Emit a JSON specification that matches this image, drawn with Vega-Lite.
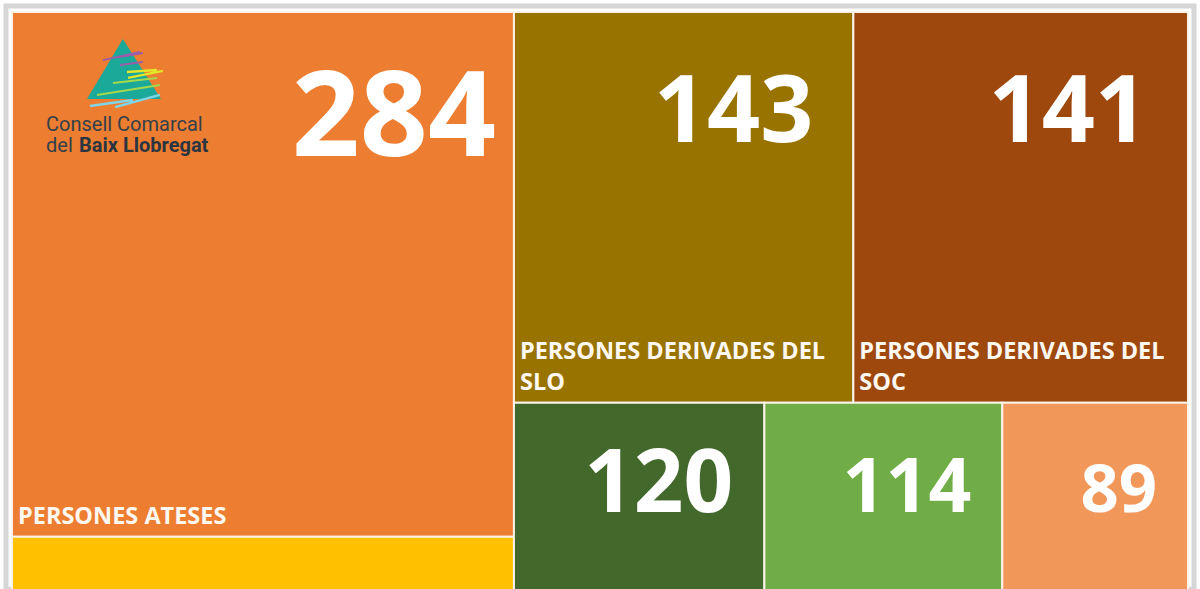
{
  "$schema": "https://vega.github.io/schema/vega-lite/v6.json",
  "width": 1200,
  "height": 589,
  "autosize": {"type": "fit", "contains": "padding"},
  "padding": {"left": 6, "top": 6, "right": 6, "bottom": 0},
  "background": "white",
  "config": {"view": {"stroke": "#d6d6d6", "strokeWidth": 5}, "font": "Open Sans"},
  "data": {
    "values": [
      {"label": "PERSONES ATESES", "value": 284, "block": "A"},
      {"label": null, "value": 168, "block": "A"},
      {"label": "PERSONES DERIVADES DEL\nSLO", "value": 143, "block": "B"},
      {"label": "PERSONES DERIVADES DEL\nSOC", "value": 141, "block": "B"},
      {"label": null, "value": 120, "block": "C"},
      {"label": null, "value": 114, "block": "C"},
      {"label": null, "value": 89, "block": "C"}
    ]
  },
  "transform": [
    {"joinaggregate": [{"op": "sum", "field": "value", "as": "T"}]},
    {"calculate": "datum.block === 'A' ? datum.value : 0", "as": "aVal"},
    {"calculate": "datum.block === 'B' ? datum.value : 0", "as": "bVal"},
    {"joinaggregate": [{"op": "sum", "field": "aVal", "as": "SA"}, {"op": "sum", "field": "bVal", "as": "SB"}]},
    {"joinaggregate": [{"op": "sum", "field": "value", "as": "S"}], "groupby": ["block"]},
    {"window": [{"op": "sum", "field": "value", "as": "cum"}], "groupby": ["block"], "sort": [{"field": "value", "order": "descending"}], "frame": [null, 0]},
    {"calculate": "datum.SA / datum.T", "as": "wA"},
    {"calculate": "datum.block === 'A' ? 0 : datum.wA + (1 - datum.wA) * (datum.cum - datum.value) / datum.S", "as": "x0"},
    {"calculate": "datum.block === 'A' ? datum.wA : datum.wA + (1 - datum.wA) * datum.cum / datum.S", "as": "x1"},
    {"calculate": "datum.block === 'A' ? (datum.cum - datum.value) / datum.S : (datum.block === 'B' ? 0 : datum.SB / (datum.T - datum.SA))", "as": "y0"},
    {"calculate": "datum.block === 'A' ? datum.cum / datum.S : (datum.block === 'B' ? datum.SB / (datum.T - datum.SA) : 1)", "as": "y1"}
  ],
  "encoding": {
    "x": {"field": "x0", "type": "quantitative", "scale": {"domain": [-0.0051, 1.0051], "nice": false, "zero": false}, "axis": null},
    "y": {"field": "y0", "type": "quantitative", "scale": {"domain": [-0.0072, 0.691], "reverse": true, "nice": false, "zero": false}, "axis": null}
  },
  "layer": [
    {
      "mark": {"type": "rect", "clip": true, "stroke": "#fbf3ea", "strokeWidth": 2},
      "encoding": {
        "x2": {"field": "x1"},
        "y2": {"field": "y1"},
        "color": {
          "field": "value", "type": "nominal", "legend": null,
          "scale": {"domain": [284, 168, 143, 141, 120, 114, 89], "range": ["#ED7D31", "#FFC000", "#997300", "#9E480E", "#43682B", "#70AD47", "#F1975A"]}
        }
      }
    },
    {
      "transform": [{"filter": "datum.value > 200"}],
      "mark": {"type": "text", "clip": true, "align": "right", "baseline": "alphabetic", "dx": -18, "dy": 144, "fontWeight": "bold", "color": "white"},
      "encoding": {
        "x": {"field": "x1", "type": "quantitative"},
        "text": {"field": "value", "type": "nominal"},
        "size": {"field": "value", "type": "quantitative", "legend": null, "scale": {"type": "threshold", "domain": [100, 117, 130, 200], "range": [67, 75, 87, 93, 119]}}
      }
    },
    {
      "transform": [{"filter": "datum.block === 'B'"}],
      "mark": {"type": "text", "clip": true, "align": "right", "baseline": "alphabetic", "dx": -40, "dy": 130, "fontWeight": "bold", "color": "white"},
      "encoding": {
        "x": {"field": "x1", "type": "quantitative"},
        "text": {"field": "value", "type": "nominal"},
        "size": {"field": "value", "type": "quantitative", "legend": null, "scale": {"type": "threshold", "domain": [100, 117, 130, 200], "range": [67, 75, 87, 93, 119]}}
      }
    },
    {
      "transform": [{"filter": "datum.block === 'C'"}],
      "mark": {"type": "text", "clip": true, "align": "right", "baseline": "alphabetic", "dx": -31, "dy": 109, "fontWeight": "bold", "color": "white"},
      "encoding": {
        "x": {"field": "x1", "type": "quantitative"},
        "text": {"field": "value", "type": "nominal"},
        "size": {"field": "value", "type": "quantitative", "legend": null, "scale": {"type": "threshold", "domain": [100, 117, 130, 200], "range": [67, 75, 87, 93, 119]}}
      }
    },
    {
      "transform": [{"filter": "datum.label != null && datum.block === 'A'"}],
      "mark": {"type": "text", "clip": true, "align": "left", "baseline": "bottom", "dx": 6, "dy": -8, "fontSize": 23.5, "fontWeight": "bold", "color": "#fff8f0"},
      "encoding": {
        "y": {"field": "y1", "type": "quantitative"},
        "text": {"field": "label", "type": "nominal"}
      }
    },
    {
      "transform": [{"filter": "datum.label != null && datum.block === 'B'"}],
      "mark": {"type": "text", "clip": true, "align": "left", "baseline": "bottom", "dx": 6, "dy": -39, "fontSize": 23.5, "fontWeight": "bold", "color": "#fff8f0", "lineBreak": "\n", "lineHeight": 31},
      "encoding": {
        "y": {"field": "y1", "type": "quantitative"},
        "text": {"field": "label", "type": "nominal"}
      }
    },
    {
      "transform": [{"filter": "datum.label === 'PERSONES ATESES'"}],
      "mark": {"type": "point", "shape": "M-0.03,-0.81L1,0.81L-1,0.81Z", "size": 5476, "filled": true, "fill": "#1ba99a", "opacity": 1, "strokeWidth": 0, "xOffset": 112, "yOffset": 57}
    },
    {
      "transform": [{"filter": "datum.label === 'PERSONES ATESES'"}],
      "mark": {"type": "point", "shape": "M-0.57,-0.24L0.43,-0.46M-0.16,-0.32L0.51,-0.43M-0.11,-0.11L0.51,-0.19", "size": 5476, "filled": false, "stroke": "#9a5fa8", "strokeWidth": 2, "opacity": 1, "xOffset": 112, "yOffset": 57}
    },
    {
      "transform": [{"filter": "datum.label === 'PERSONES ATESES'"}],
      "mark": {"type": "point", "shape": "M0.11,0.24L1.05,0.05M0.08,0.08L0.89,0.03", "size": 5476, "filled": false, "stroke": "#e3e62a", "strokeWidth": 2.5, "opacity": 1, "xOffset": 112, "yOffset": 57}
    },
    {
      "transform": [{"filter": "datum.label === 'PERSONES ATESES'"}],
      "mark": {"type": "point", "shape": "M-0.3,0.38L0.89,0.24M-0.73,0.7L0.97,0.43", "size": 5476, "filled": false, "stroke": "#a6d84e", "strokeWidth": 2, "opacity": 1, "xOffset": 112, "yOffset": 57}
    },
    {
      "transform": [{"filter": "datum.label === 'PERSONES ATESES'"}],
      "mark": {"type": "point", "shape": "M-0.24,1.03L0.97,0.7M-0.92,1.0L0.24,0.84", "size": 5476, "filled": false, "stroke": "#7fd6e8", "strokeWidth": 2.5, "opacity": 1, "xOffset": 112, "yOffset": 57}
    },
    {
      "transform": [{"filter": "datum.label === 'PERSONES ATESES'"}],
      "mark": {"type": "text", "text": "Consell Comarcal", "align": "left", "baseline": "alphabetic", "dx": 34, "dy": 119, "font": "Roboto", "fontSize": 20, "color": "#34404a"}
    },
    {
      "transform": [{"filter": "datum.label === 'PERSONES ATESES'"}],
      "mark": {"type": "text", "text": "del", "align": "left", "baseline": "alphabetic", "dx": 34, "dy": 140, "font": "Roboto", "fontSize": 20, "color": "#34404a"}
    },
    {
      "transform": [{"filter": "datum.label === 'PERSONES ATESES'"}],
      "mark": {"type": "text", "text": "Baix Llobregat", "align": "left", "baseline": "alphabetic", "dx": 67, "dy": 140, "font": "Roboto", "fontSize": 20, "fontWeight": "bold", "color": "#2b3540"}
    }
  ]
}
